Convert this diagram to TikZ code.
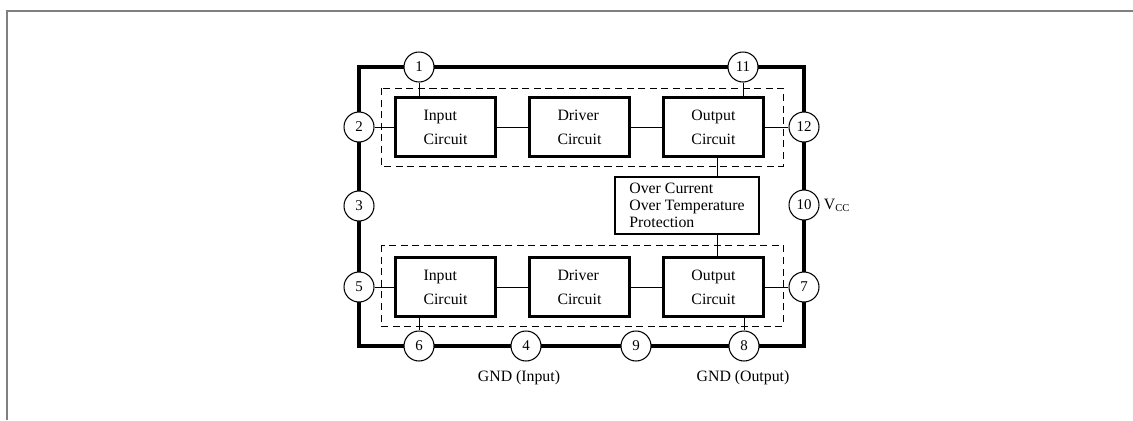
\documentclass[tikz,border=0pt]{standalone}
\usepackage{fontspec}
\setmainfont{Liberation Serif}
\usetikzlibrary{positioning}

\tikzset{
  block/.style={draw,line width=1.3pt,minimum width=2cm,minimum height=1.18cm,align=left,font=\fontsize{9}{13.7}\selectfont},
  pin/.style={draw,circle,fill=white,line width=0.6pt,minimum size=0.6cm,inner sep=0pt,font=\fontsize{8.5}{10}\selectfont},
  wire/.style={line width=0.5pt},
  group/.style={draw,dash pattern=on 4pt off 2.6pt,line width=0.45pt},
  lbl/.style={font=\fontsize{9}{11}\selectfont}
}

\begin{document}
\begin{tikzpicture}[x=0.02cm,y=-0.02cm,node distance=2.68cm]
  \useasboundingbox (0,0) rectangle (1133,420);
  \draw[gray,line width=0.6pt] (7,420) -- (7,11) -- (1133,11);

  % chip outline and the two channels
  \draw[line width=2pt] (359,67) rectangle (804,346);
  \draw[group] (381,88) rectangle (783,166);
  \draw[group] (381,245) rectangle (783,326);

  \node[block] (in1) at (445.5,127) {Input\\Circuit};
  \node[block,right of=in1] (drv1) {Driver\\Circuit};
  \node[block,right of=drv1] (out1) {Output\\Circuit};

  \node[block] (in2) at (445.5,287) {Input\\Circuit};
  \node[block,right of=in2] (drv2) {Driver\\Circuit};
  \node[block,right of=drv2] (out2) {Output\\Circuit};

  \node[block,minimum width=2.88cm,minimum height=1.14cm,font=\fontsize{9}{9.7}\selectfont] (prot) at (687,205.5)
    {Over Current\\Over Temperature\\Protection};

  % pins
  \foreach \n/\x/\y in {1/419/67,11/743/67,2/359/127,12/804/127,3/359/206,10/804/205,
                        5/359/287,7/804/287,6/419/346,4/526/346,9/636/346,8/744/346}
    \node[pin] (p\n) at (\x,\y) {\n};

  % upper channel wiring
  \draw[wire] (p1) -- (p1 |- in1.north);
  \draw[wire] (p2) -- (in1);
  \draw[wire] (in1) -- (drv1);
  \draw[wire] (drv1) -- (out1);
  \draw[wire] (out1) -- (p12);
  \draw[wire] (p11) -- (p11 |- out1.north);
  \draw[wire] ([xshift=0.07cm]out1.south) -- ([xshift=0.07cm]out1.south |- prot.north);

  % lower channel wiring
  \draw[wire] ([xshift=0.07cm]out2.north |- prot.south) -- ([xshift=0.07cm]out2.north);
  \draw[wire] (p5) -- (in2);
  \draw[wire] (in2) -- (drv2);
  \draw[wire] (drv2) -- (out2);
  \draw[wire] (out2) -- (p7);
  \draw[wire] (p6 |- in2.south) -- (p6);
  \draw[wire] (p8 |- out2.south) -- (p8);

  \node[lbl,right=0pt of p10,inner sep=2.3pt] (vcc) {V\textsubscript{CC}};
  \node[lbl] (gndin) at (519,378) {GND (Input)};
  \node[lbl] (gndout) at (743,378) {GND (Output)};
\end{tikzpicture}
\end{document}
